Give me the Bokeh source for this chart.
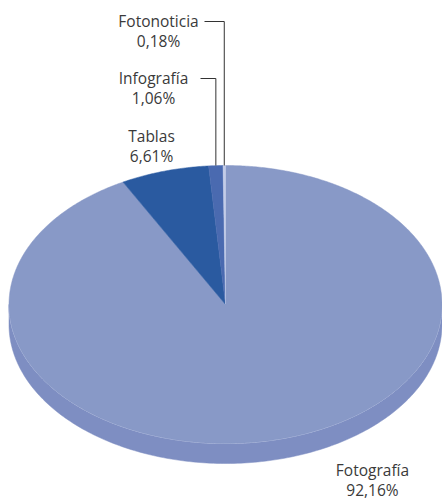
import numpy as np
from bokeh.plotting import figure
from bokeh.models import Range1d
from bokeh.core.properties import value
from bokeh.embed import file_html
from bokeh.resources import INLINE

# ---- data ----
categories = ["Fotografía", "Tablas", "Infografía", "Fotonoticia"]
percents = [92.16, 6.61, 1.06, 0.18]
pct_labels = ["92,16%", "6,61%", "1,06%", "0,18%"]

# ---- styling / layout ----
top_colors = ["#8899C7", "#2A5AA0", "#4A6AB0", "#C3CCE8"]
side_colors = ["#7E8EC2", "#234E8E", "#3F5EA0", "#AEB9DC"]
CX, CY, RX, RY, DEPTH = 225.0, 304.0, 216.5, 139.0, 20.0
W, H = 442, 501

p = figure(width=W, height=H, x_range=Range1d(0, W), y_range=Range1d(H, 0),
           output_backend="svg", toolbar_location=None, min_border=0,
           background_fill_color="white", border_fill_color="white")
p.axis.visible = False
p.grid.visible = False
p.outline_line_color = None

def pt(phi_deg, dy=0.0):
    r = np.radians(phi_deg)
    return CX + RX * np.sin(r), CY - RY * np.cos(r) + dy

total = sum(percents)
starts, ends = [], []
acc = 0.0
for v in percents:
    starts.append(acc / total * 360.0)
    acc += v
    ends.append(acc / total * 360.0)

# sides (front half only: phi in [90, 270])
for a0, a1, c in zip(starts, ends, side_colors):
    s0, s1 = max(a0, 90.0), min(a1, 270.0)
    if s1 <= s0:
        continue
    ph = np.linspace(s0, s1, 200)
    tx, ty = pt(ph)
    bx, by = pt(ph[::-1], DEPTH)
    p.patch(np.concatenate([tx, bx]), np.concatenate([ty, by]),
            fill_color=c, line_color=c, line_width=0.5)

# faint light rim along front edge of the top face
ph = np.linspace(90, 270, 200)
rx_, ry_ = pt(ph)
p.line(rx_, ry_, line_color="#C9D1EC", line_width=1, line_alpha=0.9)

# top face slices
for a0, a1, c in zip(starts, ends, top_colors):
    ph = np.linspace(a0, a1, max(int((a1 - a0) * 2), 4))
    x, y = pt(ph)
    p.patch(np.concatenate([[CX], x]), np.concatenate([[CY], y]),
            fill_color=c, line_color=c, line_width=0.5)

# labels
FONT = value("Open Sans")
label_pos = {  # (center x, first line y)
    "Fotografía": (372, 469),
    "Tablas": (151, 135),
    "Infografía": (153, 77),
    "Fotonoticia": (158, 20),
}
for cat, lab in zip(categories, pct_labels):
    lx, ly = label_pos[cat]
    p.text(x=[lx, lx], y=[ly, ly + 20.5], text=[cat, lab], text_font=FONT,
           text_font_size="15.5px", text_color="#3A3A3A",
           text_align="center", text_baseline="middle")

# leader lines for the small slices
leaders = {"Infografía": 200, "Fotonoticia": 204}
for cat, xstart in leaders.items():
    i = categories.index(cat)
    mid = (starts[i] + ends[i]) / 2
    ex, ey = pt(mid)
    ly = label_pos[cat][1] + 1
    p.line([xstart, ex, ex], [ly, ly, ey], line_color="#333333", line_width=1)

open("out.html", "w").write(file_html(p, INLINE))
